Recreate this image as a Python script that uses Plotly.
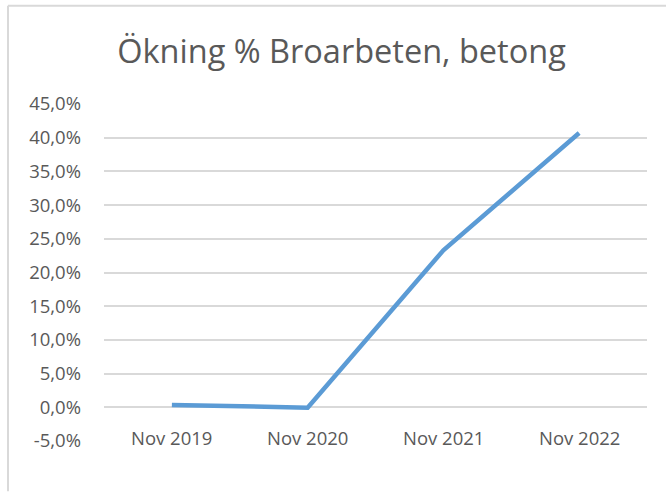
import plotly.graph_objects as go

categories = ["Nov 2019", "Nov 2020", "Nov 2021", "Nov 2022"]
values = [0.0035, -0.0005, 0.233, 0.407]
tick_vals = [-0.05, 0.0, 0.05, 0.10, 0.15, 0.20, 0.25, 0.30, 0.35, 0.40, 0.45]
tick_text = [f"{v * 100:.1f}%".replace(".", ",") for v in tick_vals]

W, H = 666, 492
L, R, T, B = 104, 19, 103.5, 50.5
FONT = "Open Sans, Noto Sans, sans-serif"
GREY = "#595959"

fig = go.Figure()
fig.add_trace(go.Scatter(
    x=categories, y=values, mode="lines",
    line=dict(color="#5B9BD5", width=4.5), hoverinfo="skip", showlegend=False,
))

for c in categories:
    fig.add_annotation(x=c, y=0, xref="x", yref="y", text=c, showarrow=False,
                       yanchor="top", yshift=-16,
                       font=dict(family=FONT, size=18.5, color=GREY))

# chart border (top and left edges)
fig.add_shape(type="line", xref="paper", yref="paper",
              x0=(8 - L) / (W - L - R), x1=(W - L) / (W - L - R),
              y0=(H - B - 5) / (H - T - B), y1=(H - B - 5) / (H - T - B),
              line=dict(color="#D9D9D9", width=2))
fig.add_shape(type="line", xref="paper", yref="paper",
              x0=(8 - L) / (W - L - R), x1=(8 - L) / (W - L - R),
              y0=(H - B - 5) / (H - T - B), y1=-B / (H - T - B),
              line=dict(color="#D9D9D9", width=2))

fig.update_layout(
    width=W, height=H,
    margin=dict(l=L, r=R, t=T, b=B),
    paper_bgcolor="white", plot_bgcolor="white",
    title=dict(text="Ökning % Broarbeten, betong", x=(341.5) / W, xanchor="center",
               y=1 - 52 / H, yanchor="middle",
               font=dict(family=FONT, size=32.5, color=GREY)),
    xaxis=dict(type="category", showticklabels=False, showgrid=False, zeroline=False,
               showline=False, ticks="", range=[-0.5, 3.5]),
    yaxis=dict(range=[-0.05, 0.45], tickvals=tick_vals, ticktext=tick_text,
               showgrid=True, gridcolor="#D9D9D9", gridwidth=1.5,
               zeroline=True, zerolinecolor="#D9D9D9", zerolinewidth=1.5,
               showline=False, ticks="", ticklabelstandoff=22,
               tickfont=dict(family=FONT, size=18.5, color=GREY)),
)

fig.write_html("out.html", config={"displayModeBar": False},
               post_script="document.body.style.margin='0px';")
